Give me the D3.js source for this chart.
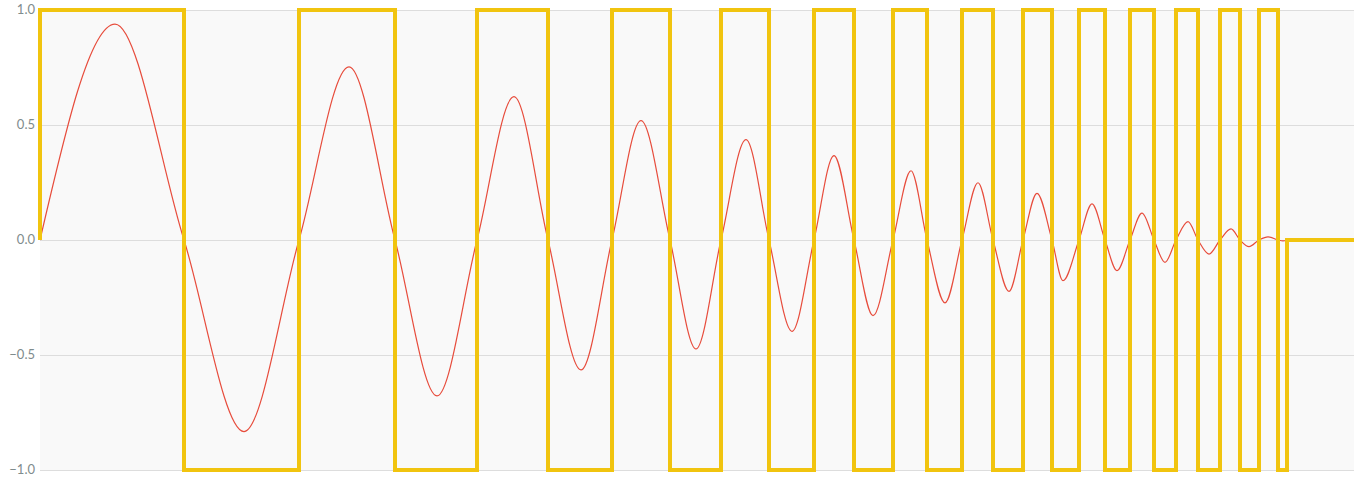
<!DOCTYPE html>
<html>
<head>
<meta charset="utf-8">
<script src="https://cdn.jsdelivr.net/npm/d3@7"></script>
<style>
  body { margin: 0; background: #fff; }
  .tick-label { font-family: Lato, "Open Sans", sans-serif; font-size: 13px; fill: #7f8c8d; }
</style>
</head>
<body>
<svg id="chart"></svg>
<script>
// zero crossings of the wave (x in chart units, 0..1314)
const crossings = [0, 144, 259, 355, 437, 508, 572, 630, 681, 729, 774, 814, 853, 887,
  922, 953, 983, 1012, 1039, 1065, 1090, 1114, 1136, 1158, 1180, 1200, 1219, 1238];

// peaks / troughs of the damped sine, between the crossings
const peakX = [75, 204, 309, 397, 474, 541, 601, 656, 706, 752, 794, 833, 871, 905,
  938, 969, 997, 1023, 1052, 1077, 1102, 1125, 1148, 1169, 1191, 1209, 1228, 1243];
const peakY = [0.939, -0.833, 0.753, -0.678, 0.623, -0.565, 0.519, -0.474, 0.436, -0.397,
  0.367, -0.329, 0.301, -0.273, 0.249, -0.223, 0.203, -0.177, 0.157, -0.133,
  0.117, -0.097, 0.08, -0.061, 0.048, -0.029, 0.014, -0.004];

const sineEnd = 1247;
const xMax = 1314;

// square wave levels, one per interval starting at each crossing
const squareLevels = [1, -1, 1, -1, 1, -1, 1, -1, 1, -1, 1, -1, 1, -1,
  1, -1, 1, -1, 1, -1, 1, -1, 1, -1, 1, -1, 1, -1];

const yTicks = [1.0, 0.5, 0.0, -0.5, -1.0];

const width = 1354, height = 480;
const margin = { top: 10, right: 0, bottom: 10, left: 40 };

const svg = d3.select("#chart").attr("width", width).attr("height", height);

const x = d3.scaleLinear().domain([0, xMax]).range([margin.left, width - margin.right]);
const y = d3.scaleLinear().domain([-1, 1]).range([height - margin.bottom, margin.top]);

// plot background
svg.append("rect")
  .attr("x", x(0)).attr("y", y(1))
  .attr("width", x(xMax) - x(0)).attr("height", y(-1) - y(1))
  .attr("fill", "#f9f9f9");

// grid lines
svg.append("g").selectAll("line")
  .data(yTicks).enter().append("line")
  .attr("x1", x(0)).attr("x2", x(xMax))
  .attr("y1", d => y(d) + 0.5).attr("y2", d => y(d) + 0.5)
  .attr("stroke", "#dddddd").attr("stroke-width", 1);

// tick labels
svg.append("g").selectAll("text")
  .data(yTicks).enter().append("text")
  .attr("class", "tick-label")
  .attr("x", margin.left - 5)
  .attr("y", d => y(d) + 1)
  .attr("text-anchor", "end")
  .attr("dominant-baseline", "middle")
  .text(d => d3.format(".1f")(d));

// sine points: crossings + extrema interleaved
let sinePts = [];
crossings.forEach((c, i) => {
  sinePts.push([c, 0]);
  sinePts.push([peakX[i], peakY[i]]);
});
sinePts.push([sineEnd, 0]);

const sineLine = d3.line()
  .x(d => x(d[0])).y(d => y(d[1]))
  .curve(d3.curveMonotoneX);

svg.append("path")
  .datum(sinePts)
  .attr("d", sineLine)
  .attr("fill", "none")
  .attr("stroke", "#e74c3c")
  .attr("stroke-width", 1.2);

// square wave
let sqPts = [[0, 0]];
crossings.forEach((c, i) => sqPts.push([c, squareLevels[i]]));
sqPts.push([sineEnd, 0]);
sqPts.push([xMax, 0]);

const sqLine = d3.line()
  .x(d => x(d[0])).y(d => y(d[1]))
  .curve(d3.curveStepAfter);

svg.append("path")
  .datum(sqPts)
  .attr("d", sqLine)
  .attr("fill", "none")
  .attr("stroke", "#f1c40f")
  .attr("stroke-width", 4)
  .attr("stroke-linejoin", "miter");
</script>
</body>
</html>
